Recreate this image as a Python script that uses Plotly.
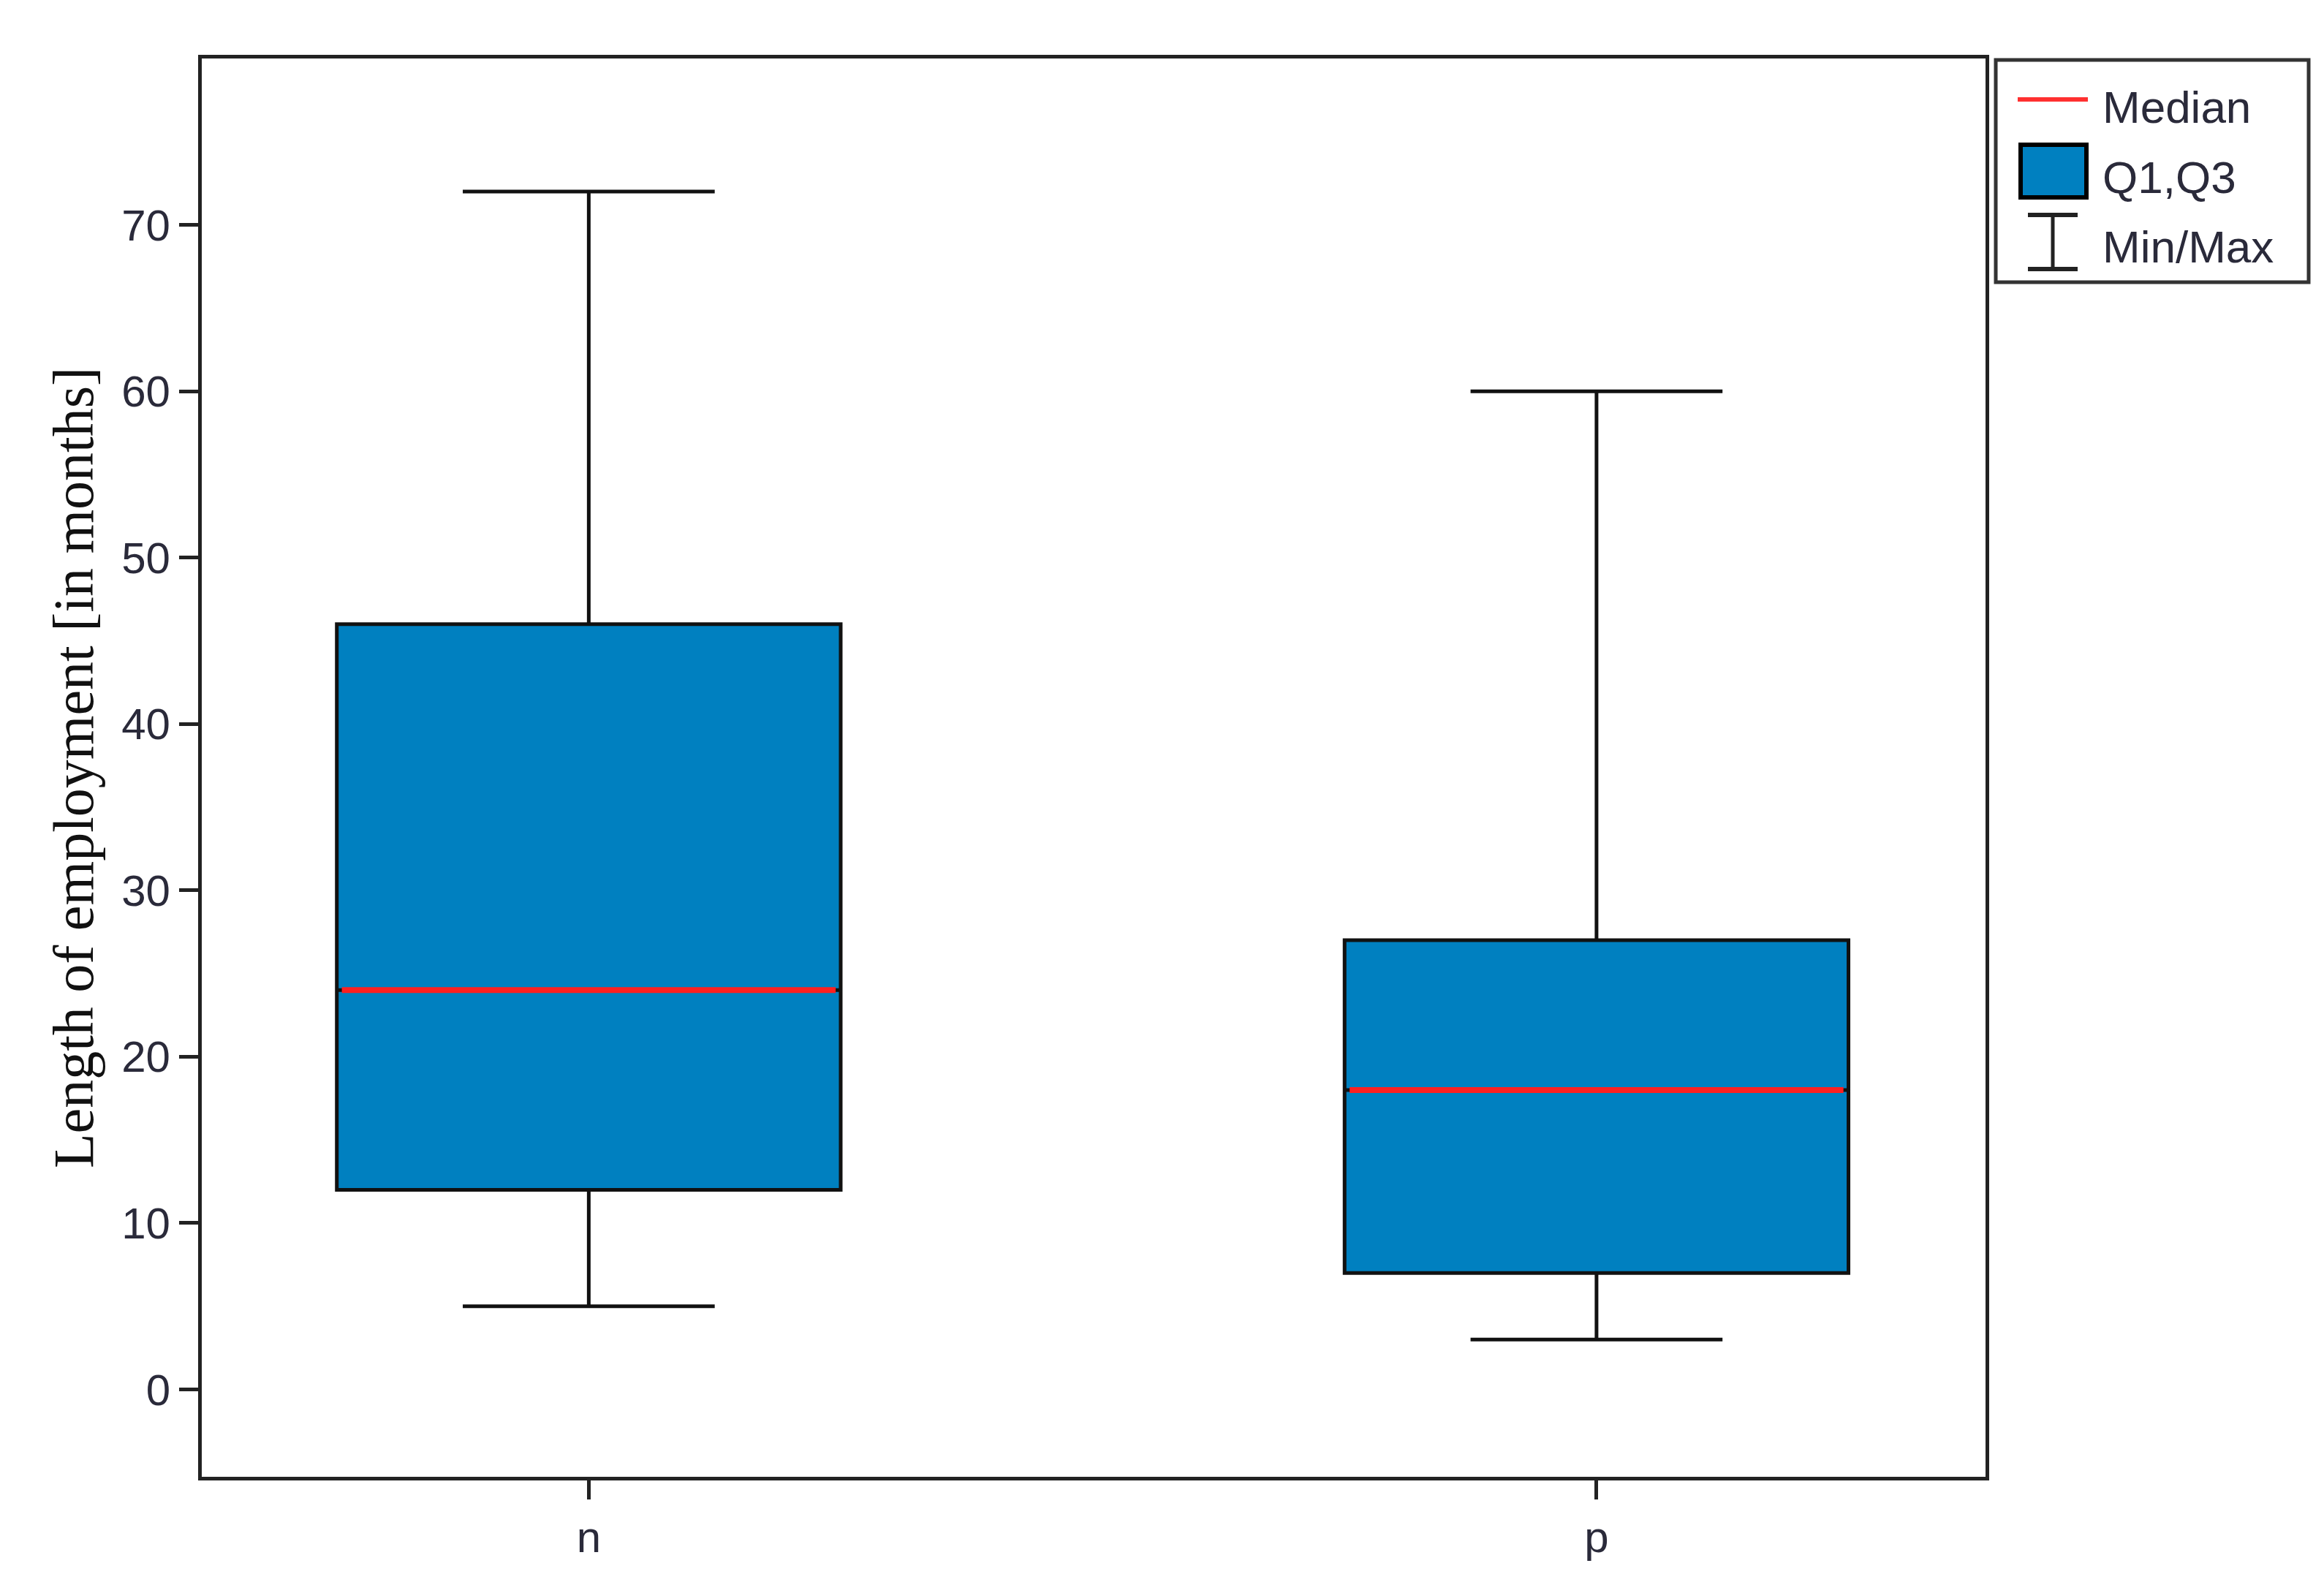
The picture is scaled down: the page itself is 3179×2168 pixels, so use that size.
import plotly.graph_objects as go

categories = ["n", "p"]
mins = [5, 3]
q1s = [12, 7]
medians = [24, 18]
q3s = [46, 27]
maxs = [72, 60]
y_ticks = [0, 10, 20, 30, 40, 50, 60, 70]

xs = list(range(len(categories)))
fig = go.Figure()
fig.add_trace(go.Box(
    x=xs, q1=q1s, median=medians, q3=q3s, lowerfence=mins, upperfence=maxs,
    fillcolor="#0080C0", line=dict(color="#111", width=5),
    width=0.5, whiskerwidth=0.5, showlegend=False, hoverinfo="skip"))
for xi, m in zip(xs, medians):
    fig.add_trace(go.Scatter(x=[xi - 0.245, xi + 0.245], y=[m, m], mode="lines",
                             line=dict(color="#FF2020", width=8), showlegend=False))

L, R, T, B = 268, 2708, 72, 2012
fig.update_layout(
    width=3179, height=2168,
    margin=dict(l=L, r=3179 - R, t=T, b=2168 - B),
    plot_bgcolor="white", paper_bgcolor="white",
    font=dict(family="Liberation Sans, Arial", size=60, color="#2a2a3a"),
)
fig.update_xaxes(range=[-0.384, 1.386], tickvals=xs, ticktext=categories,
                 showline=True, linecolor="#222", linewidth=5, mirror=True,
                 ticks="outside", ticklen=26, tickwidth=5, tickcolor="#222",
                 showgrid=False, zeroline=False, tickfont=dict(size=60))
fig.update_yaxes(range=[-5.25, 80], tickvals=y_ticks,
                 showline=True, linecolor="#222", linewidth=5, mirror=True,
                 ticks="outside", ticklen=26, tickwidth=5, tickcolor="#222",
                 showgrid=False, zeroline=False, tickfont=dict(size=60),
                 title=dict(text="Length of employment [in months]",
                            font=dict(family="Liberation Serif, Times New Roman", size=78, color="#111"),
                            standoff=14))

def px(x):
    return (x - L) / (R - L)
def py(y):
    return 1 - (y - T) / (B - T)

shapes = [
    dict(type="rect", xref="paper", yref="paper", x0=px(2722), x1=px(3150), y0=py(378), y1=py(74),
         line=dict(color="#333", width=5), fillcolor="white"),
    dict(type="line", xref="paper", yref="paper", x0=px(2752), x1=px(2848), y0=py(128), y1=py(128),
         line=dict(color="#FF3030", width=6)),
    dict(type="rect", xref="paper", yref="paper", x0=px(2756), x1=px(2846), y0=py(262), y1=py(190),
         line=dict(color="black", width=6), fillcolor="#0080C0"),
    dict(type="line", xref="paper", yref="paper", x0=px(2800), x1=px(2800), y0=py(286), y1=py(360),
         line=dict(color="#222", width=5)),
    dict(type="line", xref="paper", yref="paper", x0=px(2766), x1=px(2834), y0=py(286), y1=py(286),
         line=dict(color="#222", width=6)),
    dict(type="line", xref="paper", yref="paper", x0=px(2766), x1=px(2834), y0=py(360), y1=py(360),
         line=dict(color="#222", width=6)),
]
labels = [("Median", 138), ("Q1,Q3", 234), ("Min/Max", 330)]
annotations = [dict(xref="paper", yref="paper", x=px(2866), y=py(yy), text=t, showarrow=False,
                    xanchor="left", yanchor="middle", font=dict(size=62, color="#2a2a3a"))
               for t, yy in labels]
fig.update_layout(shapes=shapes, annotations=annotations)

fig.write_html("out.html")
